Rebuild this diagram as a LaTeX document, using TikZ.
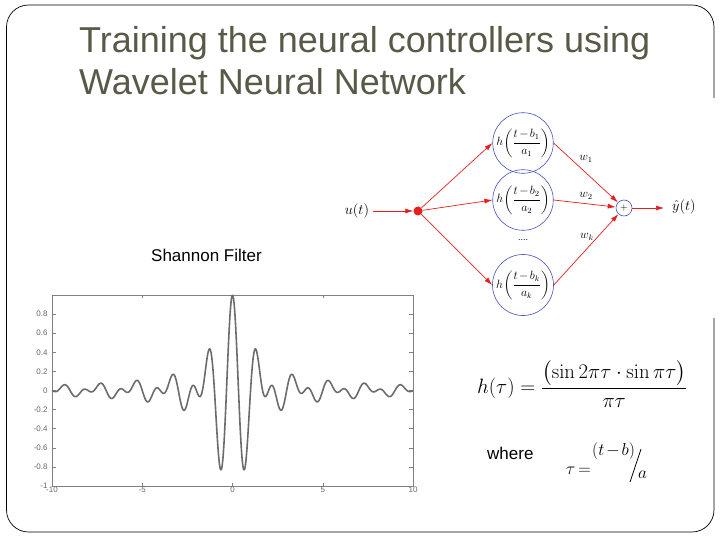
\documentclass[tikz,border=0pt]{standalone}
\usepackage{amsmath}
\usepackage[no-math]{fontspec}
\setmainfont{Liberation Sans}
\usetikzlibrary{arrows.meta}
\definecolor{titlecol}{RGB}{89,89,72}
\definecolor{netred}{RGB}{230,30,30}
\definecolor{netblue}{RGB}{70,80,190}
\newcommand{\tightminus}{\mkern-2mu-\mkern-2mu}
\begin{document}
\begin{tikzpicture}[x=1pt,y=-1pt,
  redarrow/.style={draw=netred,line width=0.7pt,-{Latex[length=8pt,width=5pt]}},
  wnode/.style={circle,draw=netblue,line width=0.6pt,minimum size=55pt,inner sep=0pt,font=\fontsize{12}{13}\selectfont},
  sumnode/.style={circle,draw=netblue,line width=0.6pt,minimum size=16pt,inner sep=0pt,font=\fontsize{10}{10}\selectfont},
  tick/.style={font=\fontsize{8}{8}\selectfont,text=black!60},
  wlab/.style={font=\fontsize{12}{12}\selectfont}]
\useasboundingbox (0,0) rectangle (720,540);
% slide border
\draw[line width=0.7pt,rounded corners=22pt] (714,98) -- (714,5) -- (6.5,5) -- (6.5,532) -- (714,532) -- (714,318);
% title
\node[anchor=base west,text=titlecol,font=\fontsize{36}{42}\selectfont,inner sep=0pt] (title1) at (79,53) {Training the neural controllers using};
\node[anchor=base west,text=titlecol,font=\fontsize{36}{42}\selectfont,inner sep=0pt] (title2) at (79,95) {Wavelet Neural Network};
% network
\node[font=\fontsize{14}{14}\selectfont] (u) at (357,211) {$u(t)$};
\node[circle,fill=netred,minimum size=9pt,inner sep=0pt] (dot) at (418,211) {};
\node[wnode] (c1) at (523,143) {$h\mkern-2mu\left(\dfrac{t\tightminus b_1}{a_1}\right)$};
\node[wnode] (c2) at (523,200) {$h\mkern-2mu\left(\dfrac{t\tightminus b_2}{a_2}\right)$};
\node[wnode] (c3) at (523,285) {$h\mkern-2mu\left(\dfrac{t\tightminus b_k}{a_k}\right)$};
\node[font=\fontsize{9}{9}\selectfont] (dots) at (523,240) {....};
\node[sumnode] (sum) at (624,208) {$+$};
\coordinate (outend) at (664,208);
\node[font=\fontsize{14}{14}\selectfont,anchor=west,inner sep=1pt] (y) at (671,207) {$\hat{y}(t)$};
\node[wlab] (w1) at (586,159) {$w_1$};
\node[wlab] (w2) at (586,196) {$w_2$};
\node[wlab] (wk) at (587,237) {$w_k$};
\draw[redarrow] (u) -- (dot);
\draw[redarrow] (dot) -- (c1.west);
\draw[redarrow] (dot) -- (c2.west);
\draw[redarrow] (dot) -- (c3.west);
\draw[redarrow] (c1.east) -- (sum);
\draw[redarrow] (c2.east) -- (sum);
\draw[redarrow] (c3.east) -- (sum);
\draw[redarrow] (sum) -- (outend);
% Shannon filter label
\node[anchor=base west,font=\fontsize{17}{17}\selectfont,inner sep=0pt] (shannon) at (151,261) {Shannon Filter};
% plot
\begin{scope}[shift={(232.5pt,-390.5pt)},x=18.05pt,y=95.5pt]
  \draw[gray,line width=0.8pt] (-10,-1) rectangle (10,1);
  \foreach \t in {-10,-5,0,5,10}{
    \draw[gray,line width=0.5pt] (\t,-1) -- ++(0,0.03);
    \draw[gray,line width=0.5pt] (\t,1) -- ++(0,-0.03);
    \node[tick] at (\t,-1.04) {\t};
  }
  \foreach \v/\l in {0.8/0.8,0.6/0.6,0.4/0.4,0.2/0.2,0/0,-0.2/-0.2,-0.4/-0.4,-0.6/-0.6,-0.8/-0.8,-1/-1}{
    \draw[gray,line width=0.5pt] (-10,\v) -- ++(0.2,0);
    \draw[gray,line width=0.5pt] (10,\v) -- ++(-0.2,0);
    \node[tick,anchor=east] at (-10.05,\v) {\l};
  }
  \draw[gray!85!black,line width=1.6pt,line join=round] plot[domain=-10:10,samples=500,smooth] (\x,{(sin(360*\x)-sin(180*\x))/(pi*\x)});
\end{scope}
% formulas
\node[anchor=west,font=\fontsize{19.5}{19.5}\selectfont,inner sep=0pt] (hform) at (477,384) {$h(\tau)=\dfrac{\bigl(\sin 2\pi\tau\cdot\sin\pi\tau\bigr)}{\pi\tau}$};
\node[anchor=base west,font=\fontsize{17}{17}\selectfont,inner sep=0pt] (where) at (487,459) {where};
\node[anchor=base west,font=\fontsize{19}{19}\selectfont,inner sep=0pt] (tau) at (566,474) {$\tau\mkern-2mu=$};
\node[anchor=base west,font=\fontsize{19}{19}\selectfont,inner sep=0pt] (tb) at (592,455) {$(t\tightminus b)$};
\coordinate (s1) at (641,449);
\coordinate (s2) at (630,482);
\draw[line width=0.8pt] (s1) -- (s2);
\node[anchor=base west,font=\fontsize{19}{19}\selectfont,inner sep=0pt] (aa) at (638,478) {$a$};
\end{tikzpicture}
\end{document}
